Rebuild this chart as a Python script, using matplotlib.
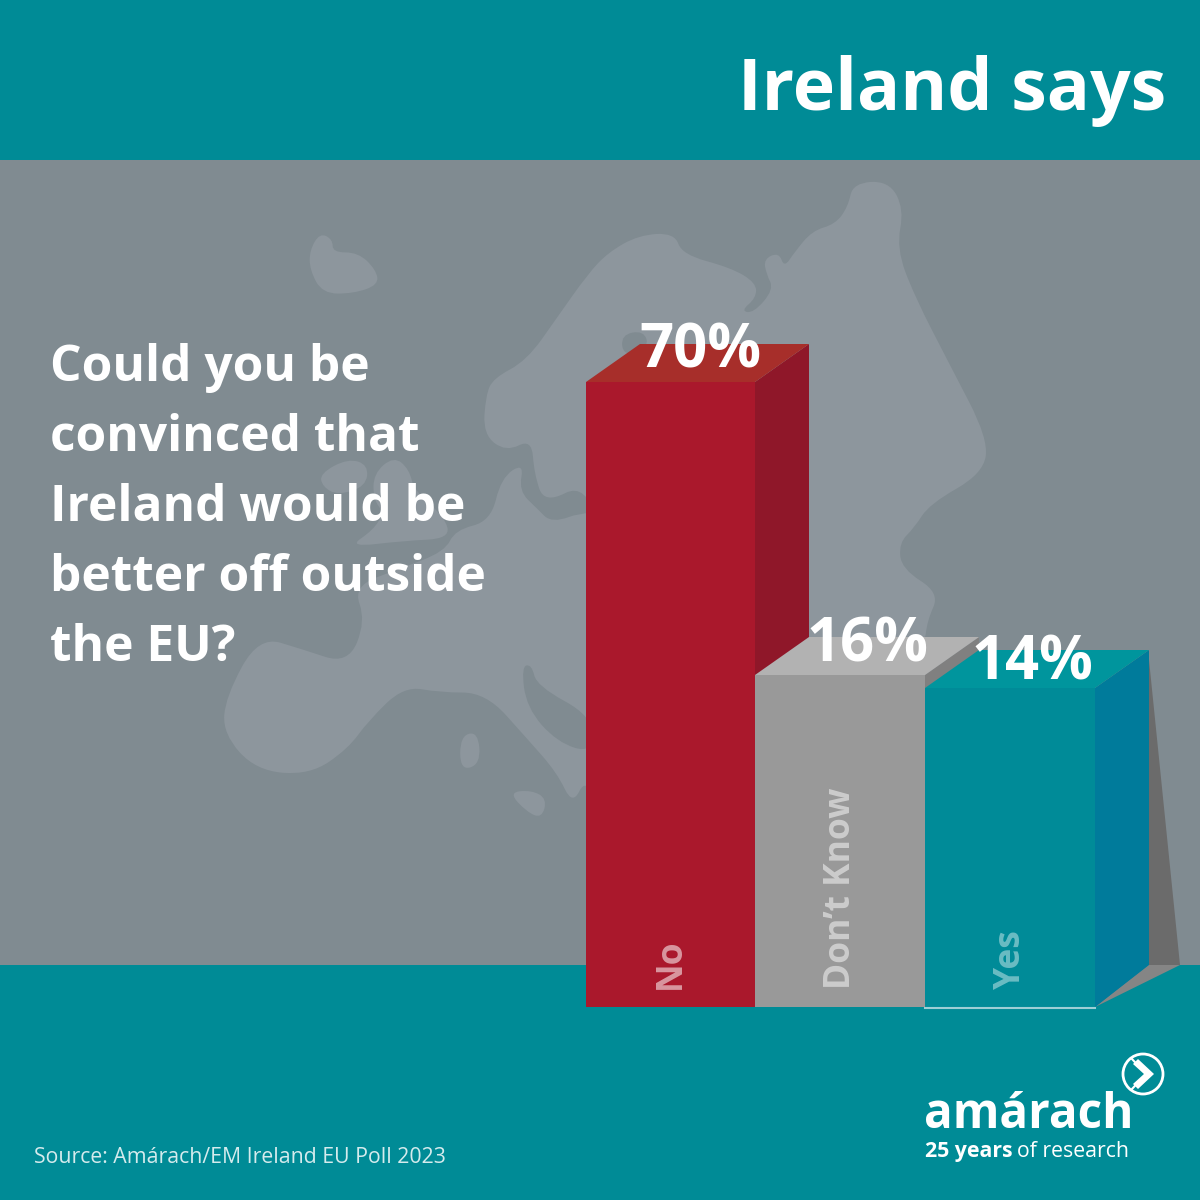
import matplotlib
matplotlib.use('Agg')
import matplotlib.pyplot as plt
import numpy as np
from matplotlib.patches import Polygon, Circle, PathPatch, Rectangle
from matplotlib.path import Path

categories = ['No', 'Don’t Know', 'Yes']
values = [70, 16, 14]
# the bars in the picture are not to scale, these are the drawn heights
drawn_heights = [625, 332, 319]
front_colors = ['#AA182C', '#999999', '#008B98']
side_colors = ['#8F1729', '#808080', '#007B9B']
top_colors = ['#A72E2A', '#B2B2B2', '#00959D']
label_alpha = [0.55, 0.5, 0.42]
question = ['Could you be', 'convinced that', 'Ireland would be', 'better off outside', 'the EU?']

TEAL = '#008B96'
BG = '#808B91'
LAND = '#8D969D'
BASE = 1007
DX, DY = 54, 38
FONT = 'Open Sans'

iceland = [(215,185),(235,145),(260,160),(260,190),(310,190),(345,230),(350,265),(300,285),(240,285),(215,230)]
ireland = [(235,700),(290,665),(330,680),(325,730),(270,750),(240,730)]
britain = [(340,700),(380,660),(410,690),(420,740),(480,800),(490,850),(400,855),(290,870),(340,830),(360,790),(340,760)]
sicily = [(605,1435),(650,1430),(680,1450),(670,1495),(640,1480)]
sardinia = [(510,1305),(545,1295),(550,1370),(510,1385)]
north = [(560,520),(575,480),(640,440),(700,340),(760,240),(800,190),(860,150),(930,145),(945,195),(1040,225),(1090,260),
         (1090,295),(1060,325),(1085,330),(1125,275),(1110,240),(1105,205),(1135,190),(1145,225),(1165,190),(1200,140),
         (1245,125),(1270,85),(1280,30),(1350,25),(1380,90),(1365,180),(1400,290),(1470,450),(1545,620),(1535,700),
         (1430,770),(1400,825),(1370,860),(1375,920),(1450,975),(1425,1040),(1420,1100),(1200,1400),(900,1300),(800,900),
         (757,720),(675,770),(655,700),(650,620),(600,650),(555,610)]
mainland = [(115,1075),(200,1105),(290,1140),(325,1040),(300,960),(390,920),(480,880),(500,830),(570,810),(590,710),
            (635,675),(625,740),(660,780),(690,815),(757,785),(900,800),(1000,1200),(900,1500),(790,1500),(757,1400),
            (730,1465),(700,1390),(640,1310),(560,1205),(470,1205),(400,1190),(330,1270),(290,1335),(215,1395),(110,1385),
            (45,1300),(50,1215)]
adriatic = [(630,1145),(650,1140),(660,1190),(770,1260),(770,1345),(700,1320),(640,1240)]
bothnia = [(825,380),(870,370),(880,410),(830,430)]


def smooth(points, color, z=1):
    # crop coordinates to picture pixels, corners rounded with quadratic curves
    p = np.array(points, dtype=float)
    p = np.column_stack([200 + p[:, 0] / 1.96, 170 + p[:, 1] / 2.306])
    mids = (p + np.roll(p, -1, axis=0)) / 2
    verts = [mids[-1]]
    codes = [Path.MOVETO]
    for i in range(len(p)):
        verts += [p[i], mids[i]]
        codes += [Path.CURVE3, Path.CURVE3]
    ax.add_patch(PathPatch(Path(verts, codes), fc=color, ec='none', zorder=z))


fig = plt.figure(figsize=(12, 12), dpi=100)
ax = fig.add_axes([0, 0, 1, 1])
ax.set_xlim(0, 1200)
ax.set_ylim(1200, 0)
ax.axis('off')

ax.add_patch(Rectangle((0, 0), 1200, 1200, fc=TEAL, ec='none', zorder=0))
ax.add_patch(Rectangle((0, 160), 1200, 805, fc=BG, ec='none', zorder=0))

for shape in [iceland, ireland, britain, sicily, sardinia, north, mainland]:
    smooth(shape, LAND)
smooth(adriatic, BG, 2)
smooth(bothnia, BG, 2)

lefts = [586, 755, 925]
bar_w = [169, 170, 170]
name_x = [671, 841, 1011]

# shadow behind the last bar
last_right = lefts[2] + bar_w[2]
last_top = BASE - drawn_heights[2]
ax.add_patch(Polygon([(last_right + DX - 1, last_top - DY), (1180, 965), (last_right + DX - 1, 965)], fc='#6B6B6B', ec='none', zorder=3))
ax.add_patch(Polygon([(last_right, BASE), (last_right + DX - 1, 965), (1180, 965)], fc='#858585', ec='none', zorder=3))

for i in range(3):
    left = lefts[i]
    right = left + bar_w[i]
    top = BASE - drawn_heights[i]
    z = 4 + i
    ax.add_patch(Polygon([(right, top), (right + DX, top - DY), (right + DX, BASE - 42), (right, BASE)], fc=side_colors[i], ec='none', zorder=z))
    ax.add_patch(Polygon([(left, top), (left + DX, top - DY), (right + DX, top - DY), (right, top)], fc=top_colors[i], ec='none', zorder=z))
    ax.bar(left, -drawn_heights[i], width=bar_w[i], bottom=BASE, align='edge', color=front_colors[i], zorder=z)
    ax.text(name_x[i], BASE - 18, categories[i], rotation=90, ha='center', va='bottom', color='white', alpha=label_alpha[i],
            fontsize=25.5, fontweight='bold', family=FONT, zorder=10)

ax.plot([925, 1095], [1007.5, 1007.5], color='#9CCFD6', lw=1.5, zorder=9)

label_x = [700, 867, 1032]
label_y = [367, 662, 679]
for x, y, v in zip(label_x, label_y, values):
    ax.text(x, y, '%d%%' % v, ha='center', va='baseline', color='white', fontsize=43, fontweight='bold', family=FONT, zorder=11)

ax.text(1166, 110, 'Ireland says', ha='right', va='baseline', color='white', fontsize=51.5, fontweight='bold', family=FONT, zorder=11)

for i, line in enumerate(question):
    ax.text(50, 381 + 70 * i, line, ha='left', va='baseline', color='white', fontsize=35.7, fontweight='bold', family=FONT, zorder=11)

ax.text(34, 1163, 'Source: Amárach/EM Ireland EU Poll 2023', ha='left', va='baseline', color='#D5EBED', fontsize=15.3, family=FONT, zorder=11)

# logo
ax.text(924, 1128, 'amárach', ha='left', va='baseline', color='white', fontsize=34.3, fontweight='bold', family=FONT, zorder=11)
ax.text(925, 1157, '25 years', ha='left', va='baseline', color='white', fontsize=15.3, fontweight='bold', family=FONT, zorder=11)
ax.text(1017, 1157, 'of research', ha='left', va='baseline', color='white', fontsize=15.3, family=FONT, zorder=11)
ax.add_patch(Circle((1143, 1074), 20, fc='none', ec='white', lw=2, zorder=11))
ax.plot([1132, 1146, 1132], [1059, 1074, 1089], color='white', lw=1.5, zorder=11)
ax.add_patch(Polygon([(1138, 1059), (1154, 1074), (1138, 1089), (1133, 1084), (1144, 1074), (1133, 1064)], fc='white', ec='none', zorder=11))

fig.savefig('out.png', dpi=100)
